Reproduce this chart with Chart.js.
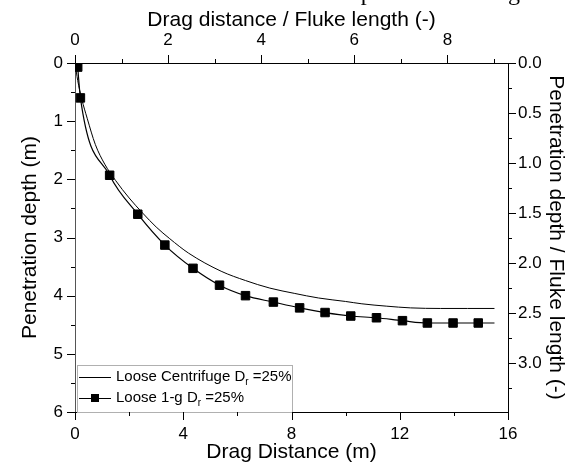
<!DOCTYPE html>
<html>
<head>
<meta charset="utf-8">
<script src="https://cdn.jsdelivr.net/npm/chart.js@4.4.0/dist/chart.umd.min.js"></script>
<style>
  html, body { margin: 0; padding: 0; background: #fff; overflow: hidden; }
  #wrap { position: relative; width: 572px; height: 465px; overflow: hidden; }
  #cut { position: absolute; top: -21px; right: 52px; white-space: nowrap; word-spacing: 11px;
         font: 24px 'Liberation Serif', serif; color: #000; }
</style>
</head>
<body>
<div id="wrap">
  <canvas id="dragChart" width="572" height="465"></canvas>
  <div id="cut">behaviour of the anchor can be replicated at 1-g</div>
</div>
<script>
// fluke length used for the normalised (top / right) axes, m
const flukeLength = 1.72;

// centrifuge test, drag distance (m) and penetration depth (m)
const centrifugeDrag = [0, 0.1, 0.25, 0.45, 0.75, 1.1, 1.5, 2.0, 2.5, 3.0, 3.5, 4.2, 5.4, 6.3, 7.2, 8.1, 9.0, 10.0, 10.6, 11.5, 12.4, 13.5, 14.5, 15.5];
const centrifugeDepth = [0, 0.3, 0.62, 0.95, 1.4, 1.74, 2.02, 2.32, 2.58, 2.82, 3.02, 3.27, 3.58, 3.74, 3.87, 3.96, 4.04, 4.1, 4.14, 4.18, 4.21, 4.22, 4.22, 4.22];

// 1-g test
const oneGDrag = [0.1, 0.2, 1.28, 2.32, 3.32, 4.36, 5.34, 6.3, 7.33, 8.3, 9.24, 10.19, 11.14, 12.1, 13.02, 13.97, 14.9, 15.5];
const oneGDepth = [0.07, 0.6, 1.93, 2.6, 3.13, 3.53, 3.82, 4.0, 4.11, 4.21, 4.29, 4.35, 4.38, 4.43, 4.47, 4.47, 4.47, 4.47];

const seriesLabels = ['Loose Centrifuge D_r =25%', 'Loose 1-g D_r =25%'];

// tick labels and minor ticks
const dragTicks = [0, 4, 8, 12, 16];
const dragMinor = [2, 6, 10, 14];
const depthTicks = [0, 1, 2, 3, 4, 5, 6];
const depthMinor = [0.5, 1.5, 2.5, 3.5, 4.5, 5.5];
const ratioDragTicks = [0, 2, 4, 6, 8];
const ratioDragMinor = [1, 3, 5, 7, 9];
const ratioDepthTicks = [0, 0.5, 1.0, 1.5, 2.0, 2.5, 3.0];
const ratioDepthMinor = [0.25, 0.75, 1.25, 1.75, 2.25, 2.75, 3.25];

Chart.defaults.font.family = "'Liberation Sans', Arial, sans-serif";
Chart.defaults.color = '#000';

const toPoints = (xs, ys) => xs.map((x, i) => ({ x: x, y: ys[i] }));
const setTicks = list => scale => { scale.ticks = list.map(v => ({ value: v })); };

// draws major + minor ticks outside each axis
const tickMarks = {
    id: 'tickMarks',
    afterDraw(chart) {
        const ctx = chart.ctx;
        const s = chart.scales;
        const area = chart.chartArea;
        ctx.save();
        ctx.lineWidth = 1;
        ctx.strokeStyle = '#000';
        const mark = (scale, values, len, side) => {
            values.forEach(v => {
                const p = Math.round(scale.getPixelForValue(v)) + 0.5;
                ctx.beginPath();
                if (side === 'bottom') { ctx.moveTo(p, area.bottom); ctx.lineTo(p, area.bottom + len); }
                if (side === 'top') { ctx.moveTo(p, area.top); ctx.lineTo(p, area.top - len); }
                if (side === 'left') { ctx.moveTo(area.left, p); ctx.lineTo(area.left - len, p); }
                if (side === 'right') { ctx.moveTo(area.right, p); ctx.lineTo(area.right + len, p); }
                ctx.stroke();
            });
        };
        mark(s.x, dragTicks, 8, 'bottom');
        mark(s.x, dragMinor, 4, 'bottom');
        mark(s.xTop, ratioDragTicks, 8, 'top');
        mark(s.xTop, ratioDragMinor, 4, 'top');
        mark(s.y, depthTicks, 8, 'left');
        mark(s.y, depthMinor, 4, 'left');
        mark(s.yRight, ratioDepthTicks, 8, 'right');
        mark(s.yRight, ratioDepthMinor, 4, 'right');
        ctx.restore();
    }
};

// legend box in the lower left corner, with subscript r
const boxLegend = {
    id: 'boxLegend',
    afterDatasetsDraw(chart) {
        const ctx = chart.ctx;
        const area = chart.chartArea;
        const left = area.left + 2, top = 365, right = 292, bottom = area.bottom;
        ctx.save();
        ctx.fillStyle = '#fff';
        ctx.fillRect(left, top, right - left, bottom - top);
        ctx.strokeStyle = '#b0b0b0';
        ctx.lineWidth = 1;
        ctx.strokeRect(left + 0.5, top + 0.5, right - left, bottom - top);
        const rows = [377, 398];
        rows.forEach((yy, i) => {
            ctx.strokeStyle = '#000';
            ctx.lineWidth = 1;
            ctx.beginPath();
            ctx.moveTo(79, yy + 0.5);
            ctx.lineTo(111, yy + 0.5);
            ctx.stroke();
            if (i === 1) {
                ctx.fillStyle = '#000';
                ctx.fillRect(91, yy - 4, 8, 8);
            }
            const parts = seriesLabels[i].split('_');
            let xx = 116;
            ctx.fillStyle = '#000';
            ctx.textBaseline = 'middle';
            ctx.font = "15px 'Liberation Sans', Arial, sans-serif";
            ctx.fillText(parts[0], xx, yy);
            xx += ctx.measureText(parts[0]).width;
            ctx.font = "10px 'Liberation Sans', Arial, sans-serif";
            ctx.fillText(parts[1].charAt(0), xx, yy + 5);
            xx += ctx.measureText(parts[1].charAt(0)).width;
            ctx.font = "15px 'Liberation Sans', Arial, sans-serif";
            ctx.fillText(parts[1].slice(1), xx, yy);
        });
        ctx.restore();
    }
};

const axisGrid = { drawOnChartArea: false, drawTicks: false };
const titleFont = { size: 21 };
const tickFont = { size: 17 };

const ctx = document.getElementById('dragChart').getContext('2d');
const dragChart = new Chart(ctx, {
    type: 'scatter',
    data: {
        datasets: [{
            label: seriesLabels[0],
            data: toPoints(centrifugeDrag, centrifugeDepth),
            showLine: true,
            borderColor: '#000',
            borderWidth: 1,
            pointRadius: 0,
            cubicInterpolationMode: 'monotone',
            clip: 0
        }, {
            label: seriesLabels[1],
            data: toPoints(oneGDrag, oneGDepth),
            showLine: true,
            borderColor: '#000',
            backgroundColor: '#000',
            borderWidth: 1.2,
            pointStyle: 'rect',
            pointRadius: c => c.dataIndex === oneGDrag.length - 1 ? 0 : 6,
            pointBorderWidth: 1,
            cubicInterpolationMode: 'monotone',
            clip: 0
        }]
    },
    options: {
        responsive: false,
        animation: false,
        layout: { padding: 0 },
        plugins: { legend: { display: false }, tooltip: { enabled: false } },
        scales: {
            x: {
                type: 'linear', position: 'bottom', min: 0, max: 16,
                grid: axisGrid, border: { color: '#000', width: 1 },
                ticks: { font: tickFont, padding: 12 },
                afterBuildTicks: setTicks(dragTicks),
                afterFit: s => { s.height = 53; },
                title: { display: true, text: 'Drag Distance (m)', font: titleFont, padding: 0 }
            },
            xTop: {
                type: 'linear', position: 'top', min: 0, max: 16 / flukeLength,
                grid: axisGrid, border: { color: '#000', width: 1 },
                ticks: { font: tickFont, padding: 12 },
                afterBuildTicks: setTicks(ratioDragTicks),
                afterFit: s => { s.height = 63; },
                title: { display: true, text: 'Drag distance / Fluke length (-)', font: titleFont, padding: { top: 8 } }
            },
            y: {
                type: 'linear', position: 'left', reverse: true, min: 0, max: 6,
                grid: axisGrid, border: { color: '#555', width: 1 },
                ticks: { font: tickFont, padding: 12 },
                afterBuildTicks: setTicks(depthTicks),
                afterFit: s => { s.width = 75; },
                title: { display: true, text: 'Penetration depth (m)', font: titleFont, padding: { top: 18 } }
            },
            yRight: {
                type: 'linear', position: 'right', reverse: true, min: 0, max: 6 / flukeLength,
                grid: axisGrid, border: { color: '#000', width: 1 },
                ticks: { font: tickFont, padding: 10, callback: v => v.toFixed(1) },
                afterBuildTicks: setTicks(ratioDepthTicks),
                afterFit: s => { s.width = 64; },
                title: { display: true, text: 'Penetration depth / Fluke length (-)', font: titleFont, padding: { top: 4 } }
            }
        }
    },
    plugins: [tickMarks, boxLegend]
});
</script>
</body>
</html>
